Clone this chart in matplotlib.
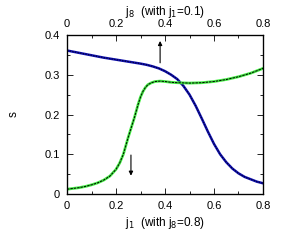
import numpy as np
import matplotlib
matplotlib.use('Agg')
import matplotlib.pyplot as plt
from matplotlib.ticker import MultipleLocator

plt.rcParams['font.family'] = ['Liberation Sans', 'DejaVu Sans']
plt.rcParams['font.size'] = 8

# curves
x_blue = [0.0, 0.05, 0.1, 0.15, 0.2, 0.25, 0.3, 0.325, 0.35, 0.375, 0.4,
          0.425, 0.45, 0.475, 0.5, 0.525, 0.55, 0.575, 0.6, 0.625, 0.65,
          0.675, 0.7, 0.725, 0.75, 0.775, 0.8]
s_blue = [0.361, 0.355, 0.349, 0.343, 0.338, 0.333, 0.328, 0.325, 0.321,
          0.316, 0.309, 0.300, 0.289, 0.272, 0.250, 0.222, 0.190, 0.157,
          0.126, 0.100, 0.080, 0.064, 0.052, 0.043, 0.037, 0.031, 0.027]

x_green = [0.0, 0.025, 0.05, 0.075, 0.1, 0.125, 0.15, 0.175, 0.2, 0.215,
           0.23, 0.25, 0.275, 0.29, 0.3, 0.31, 0.32, 0.33, 0.345, 0.36,
           0.38, 0.4, 0.425, 0.45, 0.5, 0.55, 0.6, 0.65, 0.7, 0.75, 0.8]
s_green = [0.012, 0.014, 0.016, 0.019, 0.023, 0.028, 0.035, 0.045, 0.062,
           0.078, 0.100, 0.143, 0.192, 0.225, 0.244, 0.258, 0.268, 0.275,
           0.280, 0.283, 0.284, 0.283, 0.281, 0.280, 0.279, 0.280, 0.283,
           0.288, 0.295, 0.304, 0.316]

# arrows: (x, s_start, s_end)
arrow_up = (0.38, 0.33, 0.385)
arrow_down = (0.261, 0.098, 0.046)

xticks = [0, 0.2, 0.4, 0.6, 0.8]
yticks = [0, 0.1, 0.2, 0.3, 0.4]
xticklabels = ['0', '0.2', '0.4', '0.6', '0.8']
yticklabels = ['0', '0.1', '0.2', '0.3', '0.4']

fig = plt.figure(figsize=(2.93, 2.46), dpi=100)
ax = fig.add_axes([0.2287, 0.2114, 0.6689, 0.6463])

ax.plot(x_blue, s_blue, color='#1010b0', lw=1.8, solid_joinstyle='round')
ax.plot(x_blue, s_blue, color='#000030', lw=0.8, ls=(0, (1.2, 1.2)))
ax.plot(x_green, s_green, color='#44ee44', lw=2.0, solid_joinstyle='round')
ax.plot(x_green, s_green, color='black', lw=0.7, ls=(0, (2.5, 1.0)))

for xa, s0, s1 in (arrow_up, arrow_down):
    ax.annotate('', xy=(xa, s1), xytext=(xa, s0),
                arrowprops=dict(arrowstyle='-|>', color='black', lw=0.8,
                                mutation_scale=6, shrinkA=0, shrinkB=0))

ax.set_xlim(0, 0.8)
ax.set_ylim(0, 0.4)
ax.set_xticks(xticks)
ax.set_xticklabels(xticklabels)
ax.set_yticks(yticks)
ax.set_yticklabels(yticklabels)
ax.xaxis.set_minor_locator(MultipleLocator(0.1))
ax.yaxis.set_minor_locator(MultipleLocator(0.05))
ax.tick_params(which='both', direction='in', right=True, top=False, width=0.6)
ax.tick_params(which='major', length=4, pad=5)
ax.tick_params(which='minor', length=2)
for sp in ax.spines.values():
    sp.set_linewidth(0.9)

ax.set_xlabel('j$_1$  (with j$_8$=0.8)', labelpad=3, fontsize=8.5)
ax.set_ylabel('s', labelpad=18, fontsize=8.5)

ax2 = ax.twiny()
ax2.set_xlim(0, 0.8)
ax2.set_xticks(xticks)
ax2.set_xticklabels(xticklabels)
ax2.xaxis.set_minor_locator(MultipleLocator(0.1))
ax2.tick_params(which='both', direction='in', width=0.6)
ax2.tick_params(which='major', length=4, pad=4)
ax2.tick_params(which='minor', length=2)
ax2.set_xlabel('j$_8$  (with j$_1$=0.1)', labelpad=3, fontsize=8.5)

fig.savefig('out.png', dpi=100)
